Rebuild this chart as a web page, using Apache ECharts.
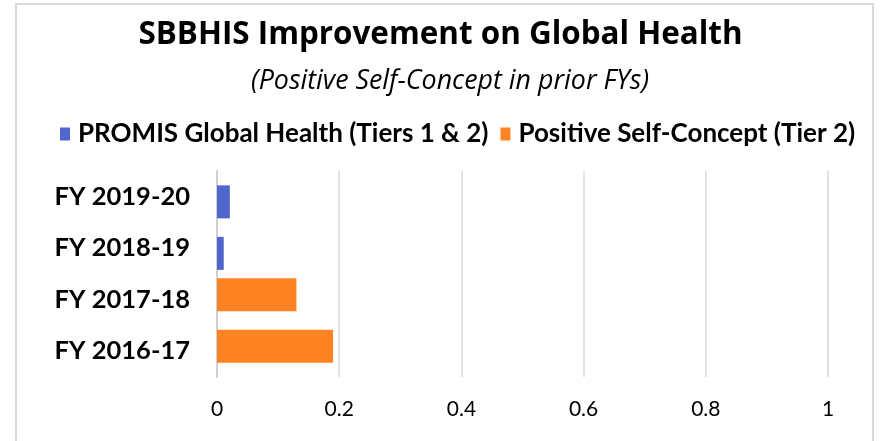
<!DOCTYPE html>
<html>
<head>
<meta charset="utf-8">
<script src="https://cdn.jsdelivr.net/npm/echarts@6/dist/echarts.min.js"></script>
<style>
  html, body { margin: 0; padding: 0; background: #fff; }
  #chart { width: 881px; height: 441px; }
</style>
</head>
<body>
<div id="chart"></div>
<script>
// data, bottom to top as the category axis draws them
var categories = ['FY 2016-17', 'FY 2017-18', 'FY 2018-19', 'FY 2019-20'];
var promisValues = ['-', '-', 0.011, 0.021];
var selfConceptValues = [0.19, 0.13, '-', '-'];
var seriesNames = ['PROMIS Global Health (Tiers 1 & 2)', 'Positive Self-Concept (Tier 2)'];

var font = 'Lato, "Open Sans", sans-serif';
var chart = echarts.init(document.getElementById('chart'));

var option = {
  animation: false,
  title: [
    {
      text: 'SBBHIS Improvement on Global Health',
      left: 'center', top: 15,
      textStyle: { fontFamily: '"Open Sans"', fontSize: 31.4, fontWeight: 'bold', color: '#000' }
    },
    {
      text: '(Positive Self-Concept in prior FYs)',
      left: 246, top: 63,
      textStyle: { fontFamily: '"Open Sans"', fontSize: 26.8, fontStyle: 'italic', fontWeight: 'normal', color: '#000' }
    }
  ],
  legend: {
    data: seriesNames,
    left: 55, top: 116,
    icon: 'rect', itemWidth: 10, itemHeight: 13, itemGap: 12,
    textStyle: { fontFamily: font, fontSize: 26, fontWeight: 'bold', color: '#000', padding: [0, 0, 0, 3] }
  },
  grid: { left: 217, right: 53, top: 171, bottom: 64 },
  xAxis: {
    type: 'value', min: 0, max: 1, interval: 0.2,
    axisLine: { show: false }, axisTick: { show: false },
    axisLabel: { fontFamily: font, fontSize: 21, color: '#000', margin: 22 },
    splitLine: { lineStyle: { color: '#d9d9d9', width: 1.5 } }
  },
  yAxis: {
    type: 'category', data: categories,
    axisLine: { lineStyle: { color: '#d0d0d0', width: 2 } },
    axisTick: { show: false },
    axisLabel: { fontFamily: font, fontSize: 25.5, fontWeight: 'bold', color: '#000', margin: 27 }
  },
  series: [
    {
      name: seriesNames[1], type: 'bar', data: selfConceptValues,
      barWidth: 33, barGap: '-69%',
      itemStyle: { color: '#ff8323' }
    },
    {
      name: seriesNames[0], type: 'bar', data: promisValues,
      barWidth: 33,
      itemStyle: { color: '#4f66cc' }
    }
  ],
  graphic: [{
    type: 'rect', silent: true,
    shape: { x: 16, y: 4, width: 857, height: 450 },
    style: { fill: null, stroke: '#d9d9d9', lineWidth: 2 }
  }]
};

chart.setOption(option);
</script>
</body>
</html>
